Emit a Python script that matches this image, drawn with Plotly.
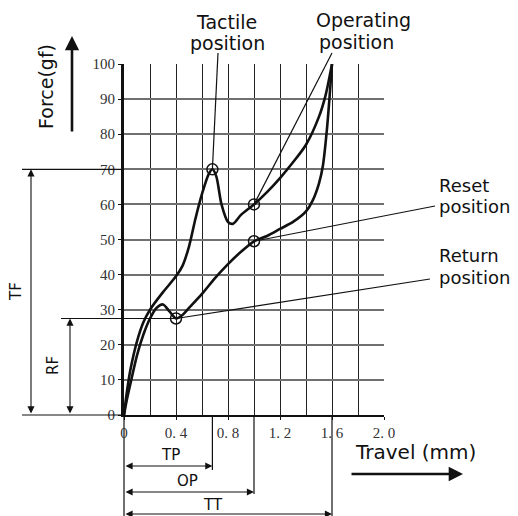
import plotly.graph_objects as go

# ---------------- data ----------------
press_x = [0, 0.02, 0.05, 0.1, 0.15, 0.2, 0.3, 0.4, 0.45, 0.5, 0.55, 0.6, 0.65, 0.68,
           0.71, 0.75, 0.8, 0.84, 0.9, 1.0, 1.1, 1.2, 1.3, 1.4, 1.5, 1.55, 1.6]
press_y = [0, 6, 13, 21, 26.5, 30, 35, 39.5, 42.5, 48, 56, 63, 68.5, 70,
           68, 60, 55, 54.5, 57, 60, 63.5, 67.5, 72, 77, 85, 91, 100]

return_x = [1.6, 1.58, 1.56, 1.53, 1.5, 1.45, 1.4, 1.3, 1.2, 1.1, 1.0, 0.9, 0.8, 0.7,
            0.6, 0.5, 0.45, 0.4, 0.35, 0.3, 0.25, 0.2, 0.15, 0.1, 0.05, 0.02, 0]
return_y = [100, 90, 81, 71, 66, 61, 58, 55, 53, 51, 49.5, 46.5, 43, 39,
            34.5, 30.5, 28.5, 27.5, 29.5, 31.5, 30.5, 27.5, 23, 17, 9, 4, 0]

tactile_pt = (0.68, 70)
operating_pt = (1.0, 60)
reset_pt = (1.0, 49.5)
return_pt = (0.4, 27.5)
total_travel = 1.6

x_tickvals = [0, 0.4, 0.8, 1.2, 1.6, 2.0]
x_ticktext = ["0", "0. 4", "0. 8", "1. 2", "1. 6", "2. 0"]
y_tickvals = [0, 10, 20, 30, 40, 50, 60, 70, 80, 90, 100]

# ---------------- layout helpers ----------------
OFF = 8  # page body margin
W, H = 518 - OFF, 516 - OFF
L, T = 124 - OFF, 64 - OFF
R = W - (384 - OFF)
B = H - (415 - OFF)
PW, PH = W - L - R, H - T - B
XR, YR = 2.0, 100.0


def dx(x):   # data x -> paper
    return x / XR


def dy(y):   # data y -> paper
    return y / YR


def pxx(p):  # window pixel x -> paper
    return (p - OFF - L) / PW


def pxy(p):  # window pixel y -> paper
    return (H - B - (p - OFF)) / PH


def d2px(x):  # data x -> window pixel
    return OFF + L + x / XR * PW


def d2py(y):  # data y -> window pixel
    return OFF + H - B - y / YR * PH


LAB = "DejaVu Sans"
TICK = "Liberation Serif"

fig = go.Figure()
fig.add_trace(go.Scatter(x=press_x, y=press_y, mode="lines", line=dict(color="#111", width=2.6, shape="spline", smoothing=0.8), cliponaxis=False, hoverinfo="skip"))
fig.add_trace(go.Scatter(x=return_x, y=return_y, mode="lines", line=dict(color="#111", width=2.6, shape="spline", smoothing=0.8), cliponaxis=False, hoverinfo="skip"))
pts = [tactile_pt, operating_pt, reset_pt, return_pt]
fig.add_trace(go.Scatter(x=[p[0] for p in pts], y=[p[1] for p in pts], mode="markers",
                         marker=dict(symbol="circle-open", size=11, color="#111", line=dict(width=1.5)),
                         cliponaxis=False, hoverinfo="skip"))

shapes = []


def line(x0, y0, x1, y1, w=1.2, c="#111"):
    shapes.append(dict(type="line", xref="paper", yref="paper", x0=x0, y0=y0, x1=x1, y1=y1,
                       line=dict(color=c, width=w)))


# leader lines
line(pxx(218), pxy(53), dx(tactile_pt[0]), dy(tactile_pt[1]))
line(pxx(332), pxy(53), dx(operating_pt[0]), dy(operating_pt[1]))
line(pxx(435), pxy(206), dx(reset_pt[0]), dy(reset_pt[1]))
line(pxx(430), pxy(279), dx(return_pt[0]), dy(return_pt[1]))
# horizontal extensions left
line(pxx(22), dy(tactile_pt[1]), 0, dy(tactile_pt[1]))
line(pxx(22), 0, 0, 0)
line(pxx(61), dy(return_pt[1]), dx(return_pt[0]), dy(return_pt[1]))
# vertical extensions below
line(0, 0, 0, pxy(516))
line(dx(tactile_pt[0]), 0, dx(tactile_pt[0]), pxy(470))
line(dx(operating_pt[0]), 0, dx(operating_pt[0]), pxy(494))
line(dx(total_travel), 0, dx(total_travel), pxy(516))

annots = []


def arrow_px(x0, y0, x1, y1, both=True, w=1.1, size=1.3):
    # window pixel coords: tail (x0,y0) -> tip (x1,y1)
    annots.append(dict(xref="paper", yref="paper", axref="pixel", ayref="pixel",
                       x=pxx(x1), y=pxy(y1), ax=x0 - x1, ay=y0 - y1, text="", showarrow=True,
                       arrowhead=2, arrowsize=size, arrowwidth=w, arrowcolor="#111",
                       arrowside="end+start" if both else "end"))


def text(x, y, s, size=19, angle=0, xanchor="center", font=LAB):
    annots.append(dict(xref="paper", yref="paper", x=pxx(x), y=pxy(y), text=s, showarrow=False,
                       font=dict(family=font, size=size, color="#111"), textangle=angle,
                       xanchor=xanchor, yanchor="middle"))


# dimension arrows
arrow_px(d2px(0), 466, d2px(tactile_pt[0]), 466)
arrow_px(d2px(0), 492, d2px(operating_pt[0]), 492)
arrow_px(d2px(0), 514, d2px(total_travel), 514)
arrow_px(31, d2py(0), 31, d2py(tactile_pt[1]))
arrow_px(70, d2py(0), 70, d2py(return_pt[1]))

text(170, 455, "TP", 15)
text(187, 481, "OP", 15)
text(213, 505, "TT", 15)
text(16, 292, "TF", 15, angle=-90)
text(53, 366, "RF", 15, angle=-90)

text(226, 22, "Tactile")
text(227, 43, "position")
text(363, 20, "Operating")
text(356, 42, "position")
text(437, 185, "Reset", 18, xanchor="left")
text(437, 206, "position", 18, xanchor="left")
text(437, 255, "Return", 18, xanchor="left")
text(437, 277, "position", 18, xanchor="left")

text(46, 87, "Force(gf)", 19, angle=-90)
text(415, 452, "Travel (mm)", 20)

# big arrows
arrow_px(72, 133, 72, 36, both=False, w=2.6, size=1.1)
arrow_px(350, 474, 463, 474, both=False, w=2.6, size=1.1)

fig.update_layout(
    width=W, height=H, autosize=False,
    margin=dict(l=L, r=R, t=T, b=B, pad=0),
    paper_bgcolor="white", plot_bgcolor="white",
    showlegend=False,
    shapes=shapes, annotations=annots,
    xaxis=dict(range=[0, XR], tickvals=x_tickvals, ticktext=x_ticktext,
               showgrid=True, gridcolor="#222", gridwidth=1.2,
               minor=dict(dtick=0.2, tick0=0, showgrid=True, gridcolor="#222", gridwidth=1.2),
               showline=True, linecolor="#111", linewidth=2, zeroline=False,
               ticks="outside", ticklen=3, tickcolor="#111",
               tickfont=dict(family=TICK, size=15, color="#333"), fixedrange=True),
    yaxis=dict(range=[0, YR], tickvals=y_tickvals,
               showgrid=True, gridcolor="#707070", gridwidth=1.6,
               showline=True, linecolor="#111", linewidth=3, zeroline=False,
               ticks="outside", ticklen=3, tickcolor="#111",
               tickfont=dict(family=TICK, size=15, color="#333"), fixedrange=True),
)

fig.write_html("out.html")
